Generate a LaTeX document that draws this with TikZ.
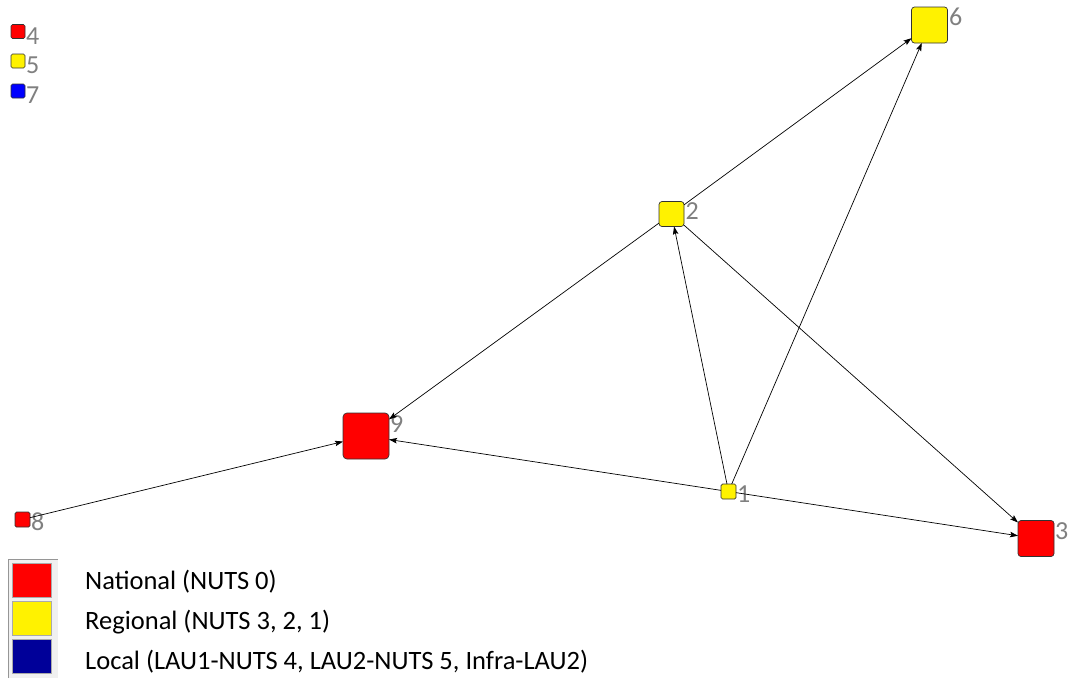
\documentclass[tikz,border=0pt]{standalone}
\usepackage{fontspec}
\setmainfont{Carlito}
\usetikzlibrary{arrows.meta}
\definecolor{labgray}{RGB}{128,128,128}
\definecolor{nodeborder}{RGB}{50,50,50}
\definecolor{legblue}{RGB}{0,0,153}
\definecolor{legbg}{RGB}{240,240,240}
\definecolor{legframe}{RGB}{150,150,150}
\definecolor{legbox}{RGB}{170,170,170}
\tikzset{
  vnode/.style={draw=nodeborder, line width=0.7pt, rectangle, rounded corners=3pt, inner sep=0pt, outer sep=0pt},
  small/.style={rounded corners=1.5pt},
  lab/.style={text=labgray, font=\fontsize{26}{28}\selectfont, anchor=base west, inner sep=0pt},
  edge/.style={draw=black, line width=0.7pt, -{Stealth[length=8pt,width=5.5pt,inset=1.5pt]}},
  legsq/.style={draw=legbox, line width=0.8pt, inner sep=0pt, outer sep=0pt, minimum width=39pt, minimum height=34pt},
  legtext/.style={font=\fontsize{26.5}{30}\selectfont, anchor=base west, inner sep=0pt, text=black}
}
\begin{document}
\begin{tikzpicture}[x=1pt,y=-1pt]
\useasboundingbox (0,0) rectangle (1073,678);
% nodes
\node[vnode, small, fill=red, minimum size=14pt] (n4) at (18,31.5) {};
\node[vnode, small, fill=yellow, minimum size=14pt] (n5) at (18,61) {};
\node[vnode, small, fill=blue, minimum size=14pt] (n7) at (18,91) {};
\node[vnode, fill=yellow, minimum size=36pt] (n6) at (929.5,25) {};
\node[vnode, fill=yellow, minimum size=25pt] (n2) at (671.5,214) {};
\node[vnode, fill=red, minimum size=46pt, rounded corners=4pt] (n9) at (366,436) {};
\node[vnode, small, fill=yellow, minimum size=15pt] (n1) at (728.5,491.5) {};
\node[vnode, fill=red, minimum size=36pt] (n3) at (1036,538.5) {};
\node[vnode, small, fill=red, minimum size=15pt] (n8) at (22.5,519.5) {};
% labels
\node[lab] (l4) at (26,44) {4};
\node[lab] (l5) at (26,73) {5};
\node[lab] (l7) at (26,103) {7};
\node[lab] (l6) at (949,25) {6};
\node[lab] (l2) at (685.5,219.5) {2};
\node[lab] (l9) at (390,432) {9};
\node[lab] (l1) at (737,502) {1};
\node[lab] (l3) at (1055,539) {3};
\node[lab] (l8) at (31,530) {8};
% edges
\draw[edge] (n2) -- (n6);
\draw[edge] (n1) -- (n6);
\draw[edge] (n1) -- (n2);
\draw[edge] (n2) -- (n3);
\draw[edge] (n2) -- (n9);
\draw[edge] (n1) -- (n9);
\draw[edge] (n1) -- (n3);
\draw[edge] (n8) -- (n9);
% legend
\fill[legbg] (8,559) rectangle (58,678);
\draw[legframe, line width=1pt] (8,678) -- (8,559) -- (58,559);
\node[legsq, fill=red] (kred) at (31.5,580.5) {};
\node[legsq, fill=yellow] (kyel) at (31.5,618) {};
\node[legsq, fill=legblue] (kblu) at (31.5,656) {};
\node[legtext] (tnat) at (85,589) {National (NUTS 0)};
\node[legtext] (treg) at (85,629) {Regional (NUTS 3, 2, 1)};
\node[legtext] (tloc) at (85,669) {Local (LAU1-NUTS 4, LAU2-NUTS 5, Infra-LAU2)};
\end{tikzpicture}
\end{document}
